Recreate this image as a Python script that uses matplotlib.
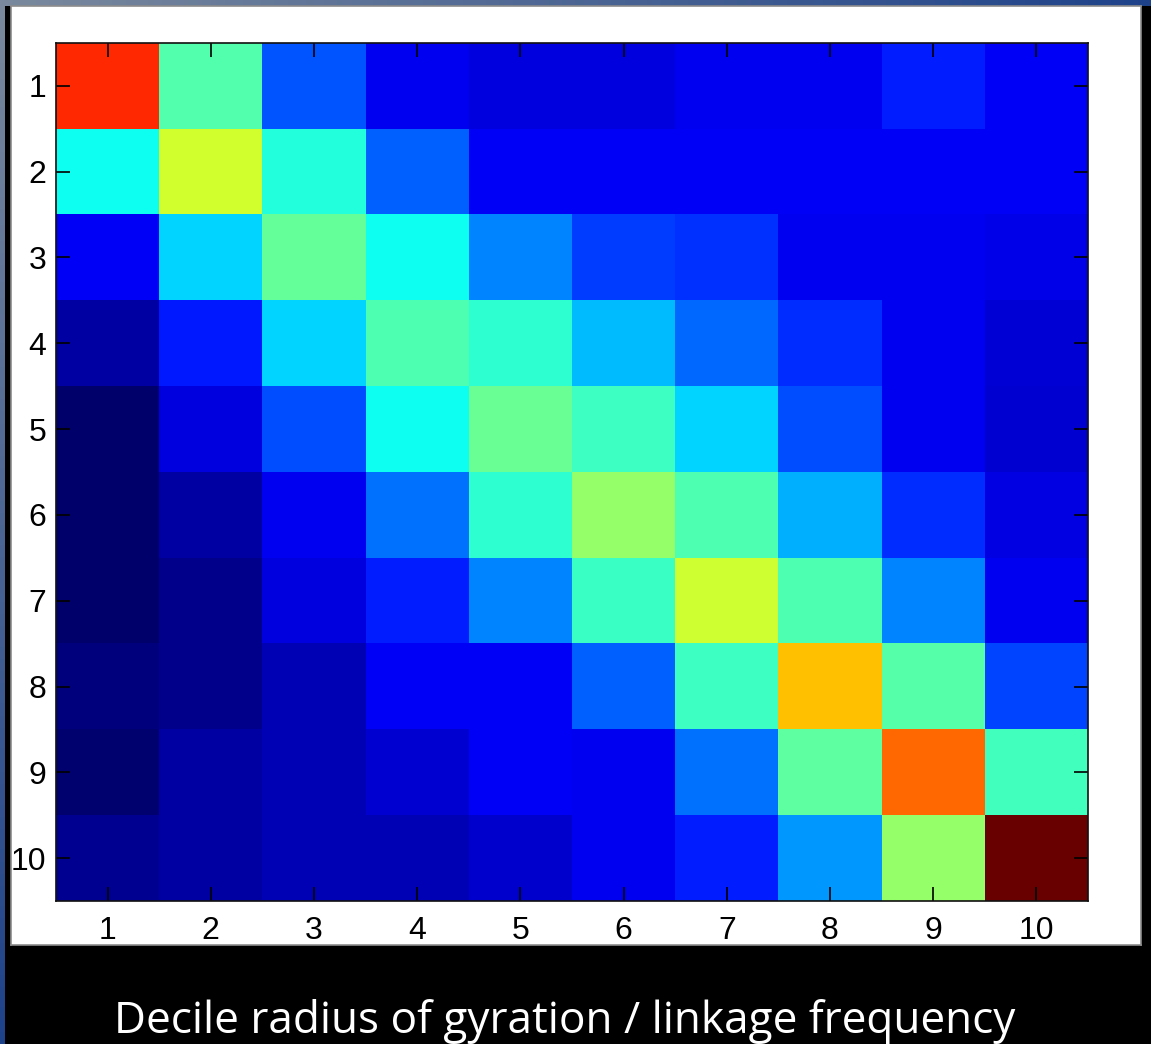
import numpy as np
import matplotlib
matplotlib.use("Agg")
import matplotlib.pyplot as plt
from matplotlib.colors import LinearSegmentedColormap

# Decile labels for both axes
deciles = ["1", "2", "3", "4", "5", "6", "7", "8", "9", "10"]

# Normalised linkage frequency between deciles of radius of gyration (row = decile i)
linkage_frequency = [
    [0.835, 0.455, 0.208, 0.117, 0.100, 0.100, 0.117, 0.117, 0.155, 0.121],
    [0.390, 0.580, 0.410, 0.220, 0.121, 0.121, 0.121, 0.121, 0.121, 0.121],
    [0.121, 0.335, 0.475, 0.390, 0.257, 0.185, 0.175, 0.117, 0.117, 0.108],
    [0.049, 0.150, 0.335, 0.453, 0.420, 0.310, 0.228, 0.170, 0.117, 0.091],
    [0.000, 0.100, 0.200, 0.390, 0.478, 0.434, 0.335, 0.200, 0.117, 0.087],
    [0.002, 0.049, 0.117, 0.238, 0.420, 0.520, 0.453, 0.297, 0.170, 0.104],
    [0.000, 0.028, 0.100, 0.155, 0.257, 0.430, 0.575, 0.453, 0.257, 0.117],
    [0.019, 0.028, 0.066, 0.121, 0.121, 0.220, 0.437, 0.685, 0.458, 0.195],
    [0.007, 0.049, 0.066, 0.087, 0.121, 0.117, 0.238, 0.468, 0.773, 0.440],
    [0.032, 0.049, 0.066, 0.066, 0.083, 0.117, 0.155, 0.277, 0.520, 1.000],
]

caption = "Decile radius of gyration / linkage frequency"

# MATLAB-style jet colormap
jet_ml = LinearSegmentedColormap("jet_ml", {
    "red":   [(0, 0, 0), (0.375, 0, 0), (0.625, 1, 1), (0.875, 1, 1), (1, 0.41, 0.41)],
    "green": [(0, 0, 0), (0.125, 0, 0), (0.375, 1, 1), (0.625, 1, 1), (0.875, 0, 0), (1, 0, 0)],
    "blue":  [(0, 0.42, 0.42), (0.125, 1, 1), (0.375, 1, 1), (0.625, 0, 0), (1, 0, 0)],
}, N=256)

W, H = 1151, 1044
fig = plt.figure(figsize=(W / 100, H / 100), dpi=100, facecolor="black")

def fx(px):
    return px / W

def fy(py):
    return 1 - py / H

# slide decoration: gradient bars on the top and left edges
c_light = np.array([122, 137, 157]) / 255
c_dark = np.array([30, 66, 138]) / 255
t = np.linspace(0, 1, 256)
top_grad = (c_light[None, :] * (1 - t[:, None]) + c_dark[None, :] * t[:, None])[None, :, :]
ax_top = fig.add_axes([0, fy(6), 1, 6 / H])
ax_top.imshow(top_grad, aspect="auto", extent=(0, 1, 0, 1))
ax_top.axis("off")

left_grad = (c_light[None, :] * (1 - t[:, None]) + c_dark[None, :] * t[:, None])[:, None, :]
ax_left = fig.add_axes([0, 0, fx(5), fy(6)])
ax_left.imshow(left_grad, aspect="auto", extent=(0, 1, 0, 1))
ax_left.axis("off")

# white figure panel behind the heatmap
panel = fig.add_axes([fx(11), fy(945), fx(1141) - fx(11), fy(6) - fy(945)])
panel.set_facecolor("white")
panel.set_xticks([])
panel.set_yticks([])
for sp in panel.spines.values():
    sp.set_color("#8c8c8c")
    sp.set_linewidth(1.2)

# heatmap
ax = fig.add_axes([fx(56), fy(901), fx(1088) - fx(56), fy(43) - fy(901)])
data = np.array(linkage_frequency)
n = len(deciles)
ax.imshow(data, cmap=jet_ml, vmin=0, vmax=1, interpolation="nearest", aspect="auto",
          extent=(0.5, n + 0.5, n + 0.5, 0.5))
ax.set_xticks(np.arange(1, n + 1))
ax.set_yticks(np.arange(1, n + 1))
ax.set_xticklabels(deciles)
ax.set_yticklabels(deciles)
ax.tick_params(direction="in", length=10, width=1.2, color="black",
               top=True, right=True, labelsize=23)
ax.tick_params(axis="y", pad=7)
ax.tick_params(axis="x", pad=11)
for lab in ax.get_xticklabels() + ax.get_yticklabels():
    lab.set_fontfamily("Liberation Sans")
for sp in ax.spines.values():
    sp.set_linewidth(1.2)
    sp.set_color("#111111")

fig.text(fx(565), fy(1033), caption, color="white", fontsize=31.8,
         family="Open Sans", ha="center", va="baseline")

fig.savefig("out.png", dpi=100, facecolor="black")
